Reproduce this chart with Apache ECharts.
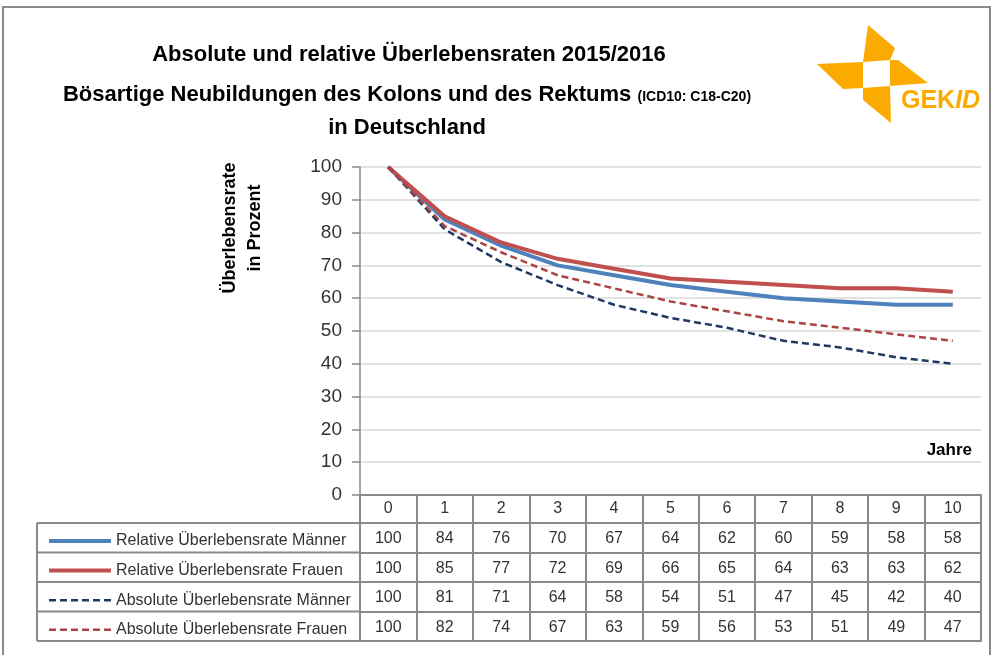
<!DOCTYPE html>
<html>
<head>
<meta charset="utf-8">
<script src="https://cdn.jsdelivr.net/npm/echarts@6/dist/echarts.min.js"></script>
<style>
  html, body { margin: 0; padding: 0; background: #fff; }
  #chart { width: 992px; height: 655px; }
</style>
</head>
<body>
<div id="chart"></div>
<script>
// Jahre nach Diagnose
const years = ['0', '1', '2', '3', '4', '5', '6', '7', '8', '9', '10']
const relMaenner = [100, 84, 76, 70, 67, 64, 62, 60, 59, 58, 58]
const relFrauen = [100, 85, 77, 72, 69, 66, 65, 64, 63, 63, 62]
const absMaenner = [100, 81, 71, 64, 58, 54, 51, 47, 45, 42, 40]
const absFrauen = [100, 82, 74, 67, 63, 59, 56, 53, 51, 49, 47]
const seriesNames = [
  'Relative Überlebensrate Männer',
  'Relative Überlebensrate Frauen',
  'Absolute Überlebensrate Männer',
  'Absolute Überlebensrate Frauen'
]

const chart = echarts.init(document.getElementById('chart'))

const FONT = 'Liberation Sans'
const BORDER = '#8a8a8a'
const gridBottomY = 655 - 160
// Tabellenzeilen unter dem Diagramm (Abstand zur x-Achse)
const rowOffsets = [0, 28, 57.5, 87, 116.5]
const rowHeights = [28, 29.5, 29.5, 29.5, 29.5]
const tableEnd = 146
const tableLeft = 37
const rows = [years, relMaenner, relFrauen, absMaenner, absFrauen]

const tableAxes = rows.map((row, i) => ({
  type: 'category',
  gridIndex: 0,
  position: 'bottom',
  offset: rowOffsets[i],
  data: years,
  boundaryGap: true,
  axisLine: { show: true, lineStyle: { color: BORDER, width: 2 } },
  axisTick: { show: true, interval: 0, inside: false, length: rowHeights[i], lineStyle: { color: BORDER, width: 2 } },
  axisLabel: {
    show: true,
    interval: 0,
    margin: rowHeights[i] / 2 - (i === 0 ? 8 : 7),
    color: '#333',
    fontFamily: FONT,
    fontSize: 16,
    formatter: (v, idx) => String(row[idx])
  },
  splitLine: { show: false }
}))
// untere Tabellenkante
tableAxes.push({
  type: 'category',
  gridIndex: 0,
  position: 'bottom',
  offset: tableEnd,
  data: years,
  axisLine: { show: true, lineStyle: { color: BORDER, width: 2 } },
  axisTick: { show: false },
  axisLabel: { show: false }
})

// Linien der Legendenspalte
const legendLines = []
const lineYs = rowOffsets.slice(1).concat([tableEnd]).map(o => gridBottomY + o)
lineYs.forEach(y => {
  legendLines.push({
    type: 'line',
    shape: { x1: tableLeft, y1: y, x2: 360, y2: y },
    style: { stroke: BORDER, lineWidth: 2 }
  })
})
legendLines.push({
  type: 'line',
  shape: { x1: tableLeft, y1: lineYs[0], x2: tableLeft, y2: lineYs[lineYs.length - 1] },
  style: { stroke: BORDER, lineWidth: 2 }
})

const logoColor = '#fbaa00'
const lineWidths = [4, 4, 2.5, 2.5]

const option = {
  animation: false,
  title: [
    {
      text: 'Absolute und relative Überlebensraten 2015/2016',
      left: 404, top: 39, textAlign: 'center',
      textStyle: { fontFamily: FONT, fontSize: 22, fontWeight: 'bold', color: '#000' }
    },
    {
      text: '{m|Bösartige Neubildungen des Kolons und des Rektums }{s|(ICD10: C18-C20)}',
      left: 402, top: 79, textAlign: 'center',
      textStyle: {
        rich: {
          m: { fontFamily: FONT, fontSize: 22, fontWeight: 'bold', color: '#000' },
          s: { fontFamily: FONT, fontSize: 14, fontWeight: 'bold', color: '#000', padding: [4, 0, 0, 0] }
        }
      }
    },
    {
      text: 'in Deutschland',
      left: 402, top: 112, textAlign: 'center',
      textStyle: { fontFamily: FONT, fontSize: 22, fontWeight: 'bold', color: '#000' }
    }
  ],
  grid: { left: 360, right: 11, top: 167, bottom: 160, containLabel: false },
  legend: {
    orient: 'vertical',
    left: 42,
    top: 528,
    itemWidth: 62,
    itemHeight: 14,
    itemGap: 13.6,
    data: seriesNames.map((n, i) => ({ name: n, lineStyle: { width: lineWidths[i] } })),
    itemStyle: { opacity: 0 },
    textStyle: { fontFamily: FONT, fontSize: 16, color: '#333', lineHeight: 14 },
    selectedMode: false
  },
  xAxis: tableAxes,
  yAxis: {
    type: 'value',
    min: 0,
    max: 100,
    interval: 10,
    axisLine: { show: true, lineStyle: { color: BORDER, width: 1.5 } },
    axisTick: { show: true, length: 8, lineStyle: { color: BORDER, width: 1.5 } },
    axisLabel: { margin: 18, color: '#333', fontFamily: FONT, fontSize: 19 },
    splitLine: { lineStyle: { color: '#d9d9d9', width: 1.5 } }
  },
  series: [
    {
      name: seriesNames[0], type: 'line', data: relMaenner,
      symbol: 'none', color: '#4f81bd',
      lineStyle: { width: lineWidths[0], color: '#4f81bd' }
    },
    {
      name: seriesNames[1], type: 'line', data: relFrauen,
      symbol: 'none', color: '#c0504d',
      lineStyle: { width: lineWidths[1], color: '#c0504d' }
    },
    {
      name: seriesNames[2], type: 'line', data: absMaenner,
      symbol: 'none', color: '#1f3864',
      lineStyle: { width: lineWidths[2], color: '#1f3864', type: [7, 4] }
    },
    {
      name: seriesNames[3], type: 'line', data: absFrauen,
      symbol: 'none', color: '#a94542',
      lineStyle: { width: lineWidths[3], color: '#a94542', type: [7, 4] }
    }
  ],
  graphic: [
    // Rahmen
    {
      type: 'rect', silent: true,
      shape: { x: 3, y: 7, width: 987, height: 660 },
      style: { fill: null, stroke: '#8a8a8a', lineWidth: 2 }
    },
    // Achsentitel
    {
      type: 'text', x: 243, y: 228, rotation: Math.PI / 2,
      style: {
        text: 'Überlebensrate\nin Prozent',
        align: 'center', verticalAlign: 'middle',
        font: 'bold 18px "Liberation Sans"', lineHeight: 25, fill: '#000'
      }
    },
    {
      type: 'text', x: 972, y: 450,
      style: {
        text: 'Jahre', align: 'right', verticalAlign: 'middle',
        font: 'bold 17px "Liberation Sans"', fill: '#000'
      }
    },
    // GEKID Logo
    { type: 'polygon', shape: { points: [[868, 25], [895, 48], [890, 60], [863, 62]] }, style: { fill: logoColor } },
    { type: 'polygon', shape: { points: [[817, 64], [863, 62], [863, 88], [843, 89]] }, style: { fill: logoColor } },
    { type: 'polygon', shape: { points: [[890, 60], [898, 60], [928, 83], [890, 86]] }, style: { fill: logoColor } },
    { type: 'polygon', shape: { points: [[863, 88], [890, 86], [891, 123], [863, 100]] }, style: { fill: logoColor } },
    {
      type: 'text', x: 901, y: 101,
      style: {
        text: '{a|GEK}{b|ID}', verticalAlign: 'middle',
        rich: {
          a: { fontFamily: FONT, fontSize: 25, fontWeight: 'bold', fill: logoColor, color: logoColor },
          b: { fontFamily: FONT, fontSize: 25, fontWeight: 'bold', fontStyle: 'italic', fill: logoColor, color: logoColor }
        }
      }
    }
  ].concat(legendLines)
}

chart.setOption(option)

window.addEventListener('resize', () => chart.resize())
</script>
</body>
</html>
